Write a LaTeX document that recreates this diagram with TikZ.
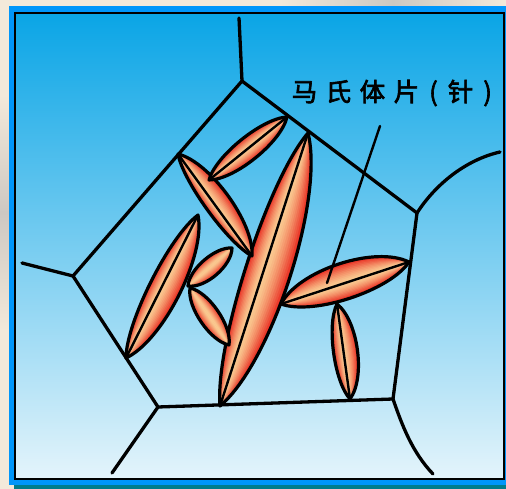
\documentclass[tikz,border=0pt]{standalone}
\usepackage{fontspec}
\newfontfamily\cjkfont[FakeBold=2.5]{Noto Sans CJK SC}

\definecolor{bgcream}{RGB}{243,233,218}
\definecolor{marble}{RGB}{205,200,194}
\definecolor{frameblue}{RGB}{0,150,250}
\definecolor{frameteal}{RGB}{0,125,140}
\definecolor{skytop}{RGB}{10,165,230}
\definecolor{skymid}{RGB}{90,192,238}
\definecolor{skybot}{RGB}{228,244,251}
\definecolor{platered}{RGB}{232,40,30}
\definecolor{platelite}{RGB}{251,206,148}

\tikzset{
  grain/.style={line width=3.3pt, black, line cap=round, line join=round},
  lensedge/.style={line width=3.2pt, black, line join=round},
  lensrib/.style={line width=2.4pt, black, line cap=round},
  pointer/.style={line width=2.4pt, black, line cap=round},
  labeltext/.style={anchor=west, inner sep=0pt, text=black,
    font=\cjkfont\fontsize{25.5pt}{25.5pt}\selectfont}
}

% martensite plate: tip A (#1,#2), tip B (#3,#4), half widths left/right of A->B,
% #7 = 1 draws the midrib; colour runs from red at the rim to light at the midrib
\newcommand{\lensplate}[7]{%
  \pgfmathsetmacro\lpcx{(#1+#3)/2}%
  \pgfmathsetmacro\lpcy{(#2+#4)/2}%
  \pgfmathsetmacro\lpang{atan2(-(#4-#2),#3-#1)}%
  \pgfmathsetmacro\lplen{veclen(#3-#1,#4-#2)/2}%
  \pgfmathsetmacro\lphl{#5*4/3}%
  \pgfmathsetmacro\lphr{#6*4/3}%
  \pgfmathsetmacro\lpq{\lplen*0.6}%
  \begin{scope}[shift={(\lpcx,\lpcy)},x=1pt,y=1pt,rotate=\lpang]
    \foreach \f in {1.0,0.92,0.84,0.76,0.68,0.6,0.52,0.44,0.36,0.28,0.2,0.12}{
      \pgfmathtruncatemacro\rp{100*(\f^1.5)}
      \fill[platered!\rp!platelite] (-\lplen,0) .. controls (-\lpq,\f*\lphl) and (\lpq,\f*\lphl) .. (\lplen,0) -- cycle;
      \fill[platered!\rp!platelite] (-\lplen,0) .. controls (-\lpq,-\f*\lphr) and (\lpq,-\f*\lphr) .. (\lplen,0) -- cycle;
    }
    \draw[lensedge] (-\lplen,0) .. controls (-\lpq,\lphl) and (\lpq,\lphl) .. (\lplen,0)
      .. controls (\lpq,-\lphr) and (-\lpq,-\lphr) .. (-\lplen,0) -- cycle;
    \ifnum#7=1 \draw[lensrib] (-\lplen,0) -- (\lplen,0);\fi
  \end{scope}}

\begin{document}
\begin{tikzpicture}[x=1pt,y=-1pt]
\useasboundingbox (0,0) rectangle (506,489);

% page background
\fill[bgcream] (0,0) rectangle (506,489);
\shade[top color=bgcream, bottom color=bgcream, middle color=marble] (0,95) rectangle (9,330);
\shade[left color=bgcream, right color=bgcream, middle color=marble] (280,0) rectangle (506,6);

% framed panel
\fill[frameteal] (14,484) rectangle (506,489);
\fill[frameblue] (9,6) rectangle (506,485);
\shade[top color=skytop, middle color=skymid, bottom color=skybot] (15,13) rectangle (504,479);
\draw[line width=2.4pt, black] (15,13) rectangle (504,479);

% grain boundary junctions
\coordinate (t0) at (239,18);
\coordinate (v1) at (242,81);
\coordinate (v2) at (417,213);
\coordinate (v3) at (393,399);
\coordinate (v4) at (158,407);
\coordinate (v5) at (73,276);
\coordinate (e5) at (22,263);
\coordinate (e4) at (112,473);
\coordinate (e3) at (433,474);
\coordinate (e2) at (500,152);

% grain boundaries
\draw[grain] (t0) -- (v1);
\draw[grain] (v1) -- (v2) -- (v3) -- (v4) -- (v5) -- cycle;
\draw[grain] (v5) -- (e5);
\draw[grain] (v4) -- (e4);
\draw[grain] (v3) .. controls (402,425) and (412,452) .. (e3);
\draw[grain] (v2) .. controls (435,185) and (465,160) .. (e2);

% martensite plates
\lensplate{220}{406}{308}{133}{18}{27}{1}
\lensplate{178}{154}{252}{256}{16}{9}{1}
\lensplate{209}{180}{287}{117}{11}{12}{1}
\lensplate{126}{358}{198}{215}{12}{19}{1}
\lensplate{188}{286}{232}{248}{9}{10}{0}
\lensplate{190}{288}{229}{345}{10}{10}{0}
\lensplate{281}{304}{409}{262}{20}{16}{1}
\lensplate{350}{399}{337}{304}{10}{14}{1}

% label and leader
\node[labeltext] (lbl) at (291.5,93) {马\kern8.5pt 氏\kern8.5pt 体\kern8.5pt 片\kern10pt (\kern10pt 针\kern10pt )};
\coordinate (ptrA) at (380,126);
\coordinate (ptrB) at (327,283);
\draw[pointer] (ptrA) -- (ptrB);
\end{tikzpicture}
\end{document}
